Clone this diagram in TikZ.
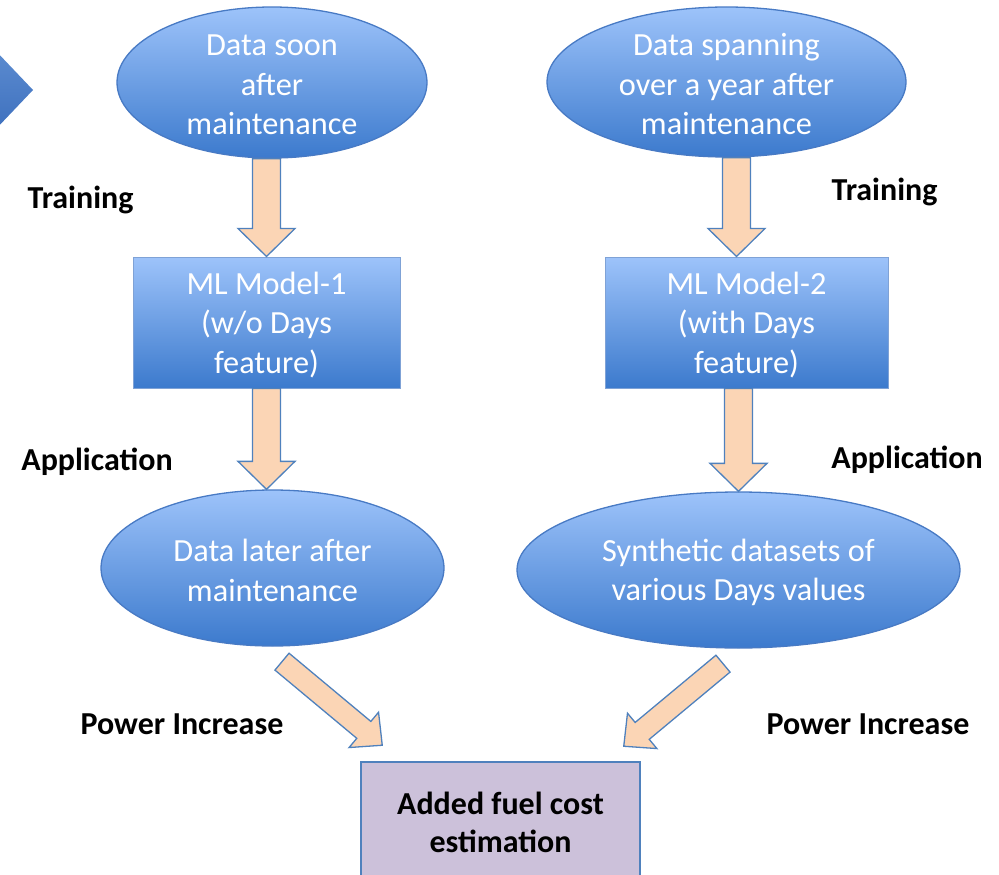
\documentclass[tikz,border=0pt]{standalone}
\usepackage{fontspec}
\setmainfont{Carlito}
\usetikzlibrary{calc,shapes.geometric}

\definecolor{ellTop}{RGB}{157,195,250}
\definecolor{ellBot}{RGB}{60,122,205}
\definecolor{ellLine}{RGB}{72,122,196}
\definecolor{peach}{RGB}{251,213,181}
\definecolor{arrowLine}{RGB}{79,129,189}
\definecolor{lavender}{RGB}{204,193,218}
\definecolor{chevTop}{RGB}{92,140,208}
\definecolor{chevBot}{RGB}{62,112,190}

\tikzset{
  dataell/.style={ellipse, draw=ellLine, line width=1.3pt,
    top color=ellTop, bottom color=ellBot, inner sep=0pt},
  modelbox/.style={rectangle, draw=ellLine!70, line width=1pt,
    top color=ellTop, bottom color=ellBot, inner sep=0pt},
  costbox/.style={rectangle, draw=arrowLine, line width=1.5pt,
    fill=lavender, inner sep=0pt},
  wtext/.style={text=white, align=center, inner sep=0pt, yshift=-2.5pt,
    font=\fontsize{32.3}{39.5}\selectfont},
  btext/.style={text=black, align=center, inner sep=0pt,
    font=\bfseries\fontsize{32}{38}\selectfont},
  steplabel/.style={text=black, inner sep=0pt,
    font=\bfseries\fontsize{32}{38}\selectfont},
  blockstyle/.style={fill=peach, draw=arrowLine, line width=1.3pt,
    line join=miter},
}

% block arrow: start, end, shaft half-width, head half-width, head length
\newcommand\blockarrow[5]{%
  \path (#1) coordinate (ba-s) (#2) coordinate (ba-e);
  \path ($(ba-e)!#5!(ba-s)$) coordinate (ba-b);
  \draw[blockstyle]
    ($(ba-s)!#3!90:(ba-e)$) -- ($(ba-b)!#3!90:(ba-e)$) --
    ($(ba-b)!#4!90:(ba-e)$) -- (ba-e) --
    ($(ba-b)!#4!-90:(ba-e)$) -- ($(ba-b)!#3!-90:(ba-e)$) --
    ($(ba-s)!#3!-90:(ba-e)$) -- cycle;}

\begin{document}
\begin{tikzpicture}[x=1pt,y=-1pt]
  \useasboundingbox (0,0) rectangle (999,875);
  \clip (0,0) rectangle (999,875);

  % partial chevron at the left edge
  \shade[top color=chevTop, bottom color=chevBot]
    (-6,49) -- (33,90) -- (-6,131) -- cycle;

  % data sources
  \node[dataell, minimum width=310pt, minimum height=151pt] (e1) at (272,82.5) {};
  \node[wtext] at (e1.center) {Data soon\\after\\maintenance};
  \node[dataell, minimum width=359pt, minimum height=150pt] (e2) at (726.5,82) {};
  \node[wtext] at (e2.center) {Data spanning\\over a year after\\maintenance};

  % models
  \node[modelbox, minimum width=267pt, minimum height=131pt] (m1) at (266.5,322.5) {};
  \node[wtext] at (m1.center) {ML Model-1\\(w/o Days\\feature)};
  \node[modelbox, minimum width=283pt, minimum height=131pt] (m2) at (746.5,322.5) {};
  \node[wtext] at (m2.center) {ML Model-2\\(with Days\\feature)};

  % application data
  \node[dataell, minimum width=343pt, minimum height=156pt] (e3) at (272.5,568) {};
  \node[wtext] at (e3.center) {Data later after\\maintenance};
  \node[dataell, minimum width=443pt, minimum height=156pt] (e4) at (738.5,570) {};
  \node[wtext] at (e4.center) {Synthetic datasets of\\various Days values};

  % result
  \node[costbox, minimum width=279pt, minimum height=122pt] (cost) at (500.5,823) {};
  \node[btext] at (500.5,822) {Added fuel cost\\estimation};

  % vertical block arrows
  \blockarrow{e1.south -| m1.north}{m1.north}{14pt}{28.5pt}{28pt}
  \blockarrow{m1.south}{m1.south |- e3.north}{14pt}{28.5pt}{28pt}
  \coordinate (a2) at ($(e2.south)!.5!(m2.north)$);
  \blockarrow{a2 |- e2.south}{a2 |- m2.north}{14pt}{28.5pt}{28pt}
  \blockarrow{m2.south -| e4.north}{e4.north}{14pt}{28.5pt}{28pt}

  % diagonal block arrows towards the result
  \coordinate (d1s) at ($(e3.south)+(9.5,15)$);
  \coordinate (d1e) at ($(cost.north west)+(22,-16)$);
  \coordinate (d2s) at ($(e4.south)+(-15.5,15)$);
  \coordinate (d2e) at ($(cost.north east)+(-17,-15)$);
  \blockarrow{d1s}{d1e}{11pt}{23pt}{24pt}
  \blockarrow{d2s}{d2e}{11pt}{23pt}{24pt}

  % step labels
  \node[steplabel] (t1) at (80.5,200) {Training};
  \node[steplabel] (t2) at (884.5,192) {Training};
  \node[steplabel] (p1) at (97,462) {Application};
  \node[steplabel] (p2) at (907,460) {Application};
  \node[steplabel] (q1) at (182,724) {Power Increase};
  \node[steplabel] (q2) at (868,724) {Power Increase};
\end{tikzpicture}
\end{document}
